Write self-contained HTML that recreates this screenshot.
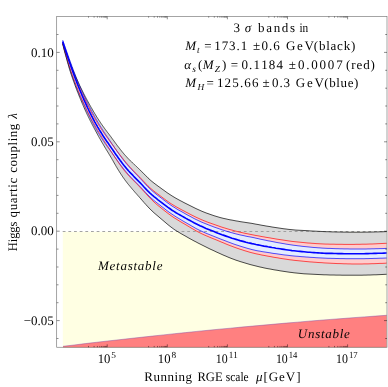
<!DOCTYPE html>
<html><head><meta charset="utf-8">
<style>
html,body{margin:0;padding:0;background:#fff;}
body{width:388px;height:387px;overflow:hidden;position:relative;}
svg{position:absolute;left:0;top:0;}
text{font-family:"Liberation Serif",serif;font-kerning:none;fill:#000;text-rendering:geometricPrecision;}
</style></head><body>
<svg width="388" height="387" viewBox="0 0 388 387">
<rect x="62.8" y="231.8" width="323.8" height="115.6" fill="#ffffe3"/>
<path d="M63.0,346.3 L74.2,345.0 L85.3,343.6 L96.5,342.3 L107.6,341.0 L118.8,339.8 L130.0,338.5 L141.1,337.3 L152.3,336.1 L163.4,334.9 L174.6,333.7 L185.7,332.6 L196.9,331.4 L208.1,330.3 L219.2,329.2 L230.4,328.2 L241.5,327.1 L252.7,326.1 L263.9,325.1 L275.0,324.1 L286.2,323.1 L297.3,322.2 L308.5,321.2 L319.6,320.3 L330.8,319.4 L342.0,318.6 L353.1,317.7 L364.3,316.9 L375.4,316.1 L386.6,315.3 L386.6,347.3 L63.0,347.3 Z" fill="#ff8080"/>
<path d="M63.0,346.3 L74.2,345.0 L85.3,343.6 L96.5,342.3 L107.6,341.0 L118.8,339.8 L130.0,338.5 L141.1,337.3 L152.3,336.1 L163.4,334.9 L174.6,333.7 L185.7,332.6 L196.9,331.4 L208.1,330.3 L219.2,329.2 L230.4,328.2 L241.5,327.1 L252.7,326.1 L263.9,325.1 L275.0,324.1 L286.2,323.1 L297.3,322.2 L308.5,321.2 L319.6,320.3 L330.8,319.4 L342.0,318.6 L353.1,317.7 L364.3,316.9 L375.4,316.1 L386.6,315.3" fill="none" stroke="#8048a8" stroke-width="0.45"/>
<path d="M62.7,42.6 L63.2,44.0 L63.7,45.4 L64.2,46.8 L64.7,48.1 L65.2,49.5 L65.7,50.9 L66.2,52.2 L66.7,53.6 L67.2,55.0 L67.7,56.3 L68.2,57.7 L68.7,59.1 L69.2,60.4 L69.7,61.8 L70.2,63.1 L70.7,64.4 L71.2,65.7 L71.7,67.0 L72.2,68.3 L72.7,69.5 L73.2,70.8 L73.7,72.0 L74.2,73.2 L74.7,74.4 L75.2,75.6 L75.7,76.8 L76.2,77.9 L76.7,79.0 L77.2,80.2 L77.7,81.3 L78.2,82.4 L78.7,83.4 L79.2,84.5 L79.7,85.6 L80.2,86.6 L80.7,87.6 L81.2,88.6 L81.7,89.6 L82.2,90.6 L82.7,91.6 L83.2,92.6 L83.7,93.6 L84.2,94.5 L84.7,95.5 L85.2,96.5 L85.7,97.4 L86.2,98.4 L86.7,99.3 L87.2,100.3 L87.7,101.2 L88.2,102.1 L88.7,103.0 L89.2,103.9 L89.7,104.8 L90.2,105.7 L90.7,106.6 L91.2,107.5 L91.7,108.3 L92.2,109.2 L92.7,110.1 L93.2,110.9 L93.7,111.8 L94.2,112.6 L94.7,113.5 L95.2,114.3 L95.7,115.1 L96.2,116.0 L96.7,116.8 L97.2,117.6 L97.7,118.4 L98.2,119.1 L98.7,119.9 L99.2,120.7 L99.7,121.4 L100.2,122.2 L100.7,122.9 L101.2,123.7 L101.7,124.4 L102.2,125.1 L102.7,125.8 L103.2,126.5 L103.7,127.2 L104.2,127.9 L104.7,128.6 L105.2,129.3 L105.7,129.9 L106.2,130.6 L106.7,131.3 L107.2,131.9 L107.7,132.6 L108.2,133.2 L108.7,133.9 L109.2,134.5 L109.7,135.2 L110.2,135.9 L110.7,136.5 L111.2,137.2 L111.7,137.9 L112.2,138.6 L112.7,139.3 L113.2,140.0 L113.7,140.6 L114.2,141.3 L114.7,142.0 L115.2,142.7 L115.7,143.4 L116.2,144.0 L116.7,144.7 L117.2,145.4 L117.7,146.0 L118.2,146.7 L118.7,147.3 L119.2,148.0 L119.7,148.6 L120.2,149.3 L120.7,149.9 L121.2,150.5 L121.7,151.2 L122.2,151.8 L122.7,152.4 L123.2,153.0 L123.7,153.6 L124.2,154.2 L124.7,154.8 L125.2,155.3 L125.7,155.9 L126.2,156.4 L126.7,157.0 L127.2,157.5 L127.7,158.0 L128.2,158.6 L128.7,159.1 L129.2,159.6 L129.7,160.1 L130.2,160.6 L130.7,161.1 L131.2,161.5 L131.7,162.0 L132.2,162.5 L132.7,163.0 L133.2,163.4 L133.7,163.9 L134.2,164.4 L134.7,164.9 L135.2,165.3 L135.7,165.8 L136.2,166.3 L136.7,166.7 L137.2,167.2 L137.7,167.7 L138.2,168.2 L138.7,168.6 L139.2,169.1 L139.7,169.6 L140.0,169.9 L142.0,171.9 L144.0,173.9 L146.0,175.9 L148.0,177.9 L150.0,179.8 L152.0,181.5 L154.0,183.1 L156.0,184.6 L158.0,186.1 L160.0,187.5 L162.0,189.0 L164.0,190.4 L166.0,191.9 L168.0,193.3 L170.0,194.6 L172.0,195.9 L174.0,197.1 L176.0,198.3 L178.0,199.4 L180.0,200.5 L182.0,201.5 L184.0,202.6 L186.0,203.6 L188.0,204.6 L190.0,205.6 L192.0,206.6 L194.0,207.6 L196.0,208.6 L198.0,209.5 L200.0,210.4 L202.0,211.3 L204.0,212.1 L206.0,212.9 L208.0,213.6 L210.0,214.3 L212.0,215.0 L214.0,215.7 L216.0,216.3 L218.0,216.9 L220.0,217.5 L222.0,218.0 L224.0,218.5 L226.0,218.9 L228.0,219.4 L230.0,219.8 L232.0,220.1 L234.0,220.5 L236.0,220.9 L238.0,221.2 L240.0,221.6 L242.0,221.9 L244.0,222.2 L246.0,222.5 L248.0,222.8 L250.0,223.1 L252.0,223.4 L254.0,223.8 L256.0,224.2 L258.0,224.5 L260.0,224.9 L262.0,225.3 L264.0,225.6 L266.0,226.0 L268.0,226.3 L270.0,226.6 L272.0,227.0 L274.0,227.3 L276.0,227.6 L278.0,227.9 L280.0,228.2 L282.0,228.5 L284.0,228.8 L286.0,229.0 L288.0,229.3 L290.0,229.5 L292.0,229.7 L294.0,229.9 L296.0,230.1 L298.0,230.2 L300.0,230.3 L302.0,230.4 L304.0,230.5 L306.0,230.6 L308.0,230.7 L310.0,230.9 L312.0,231.0 L314.0,231.1 L316.0,231.2 L318.0,231.3 L320.0,231.4 L322.0,231.5 L324.0,231.6 L326.0,231.7 L328.0,231.7 L330.0,231.8 L332.0,231.9 L334.0,231.9 L336.0,232.0 L338.0,232.0 L340.0,232.0 L342.0,232.1 L344.0,232.1 L346.0,232.1 L348.0,232.2 L350.0,232.2 L352.0,232.2 L354.0,232.2 L356.0,232.2 L358.0,232.2 L360.0,232.2 L362.0,232.2 L364.0,232.2 L366.0,232.1 L368.0,232.1 L370.0,232.1 L372.0,232.0 L374.0,232.0 L376.0,231.9 L378.0,231.9 L380.0,231.8 L382.0,231.8 L384.0,231.7 L386.0,231.6 L386.6,231.6 L386.6,274.3 L386.0,274.3 L384.0,274.4 L382.0,274.5 L380.0,274.6 L378.0,274.7 L376.0,274.8 L374.0,274.8 L372.0,274.9 L370.0,275.0 L368.0,275.0 L366.0,275.1 L364.0,275.1 L362.0,275.2 L360.0,275.2 L358.0,275.2 L356.0,275.2 L354.0,275.2 L352.0,275.2 L350.0,275.2 L348.0,275.2 L346.0,275.2 L344.0,275.2 L342.0,275.2 L340.0,275.1 L338.0,275.1 L336.0,275.1 L334.0,275.0 L332.0,275.0 L330.0,275.0 L328.0,274.9 L326.0,274.8 L324.0,274.8 L322.0,274.7 L320.0,274.6 L318.0,274.5 L316.0,274.4 L314.0,274.3 L312.0,274.2 L310.0,274.1 L308.0,274.0 L306.0,273.9 L304.0,273.8 L302.0,273.6 L300.0,273.4 L298.0,273.2 L296.0,273.0 L294.0,272.8 L292.0,272.5 L290.0,272.3 L288.0,272.0 L286.0,271.7 L284.0,271.4 L282.0,271.1 L280.0,270.8 L278.0,270.4 L276.0,270.1 L274.0,269.8 L272.0,269.4 L270.0,269.0 L268.0,268.7 L266.0,268.3 L264.0,267.9 L262.0,267.4 L260.0,267.0 L258.0,266.5 L256.0,266.0 L254.0,265.5 L252.0,265.0 L250.0,264.5 L248.0,263.9 L246.0,263.3 L244.0,262.7 L242.0,262.1 L240.0,261.5 L238.0,260.8 L236.0,260.2 L234.0,259.4 L232.0,258.7 L230.0,257.9 L228.0,257.1 L226.0,256.2 L224.0,255.4 L222.0,254.5 L220.0,253.6 L218.0,252.7 L216.0,251.8 L214.0,250.8 L212.0,249.9 L210.0,249.0 L208.0,248.0 L206.0,247.0 L204.0,246.0 L202.0,245.0 L200.0,244.0 L198.0,243.0 L196.0,241.9 L194.0,240.9 L192.0,239.8 L190.0,238.7 L188.0,237.6 L186.0,236.4 L184.0,235.3 L182.0,234.2 L180.0,233.0 L178.0,231.8 L176.0,230.6 L174.0,229.3 L172.0,227.8 L170.0,226.3 L168.0,224.7 L166.0,223.0 L164.0,221.3 L162.0,219.6 L160.0,217.9 L158.0,216.2 L156.0,214.5 L154.0,212.8 L152.0,210.9 L150.0,209.0 L148.0,206.9 L146.0,204.7 L144.0,202.5 L142.0,200.2 L140.0,197.9 L139.7,197.6 L139.2,197.0 L138.7,196.4 L138.2,195.9 L137.7,195.3 L137.2,194.7 L136.7,194.2 L136.2,193.6 L135.7,193.0 L135.2,192.5 L134.7,191.9 L134.2,191.3 L133.7,190.7 L133.2,190.2 L132.7,189.6 L132.2,189.0 L131.7,188.4 L131.2,187.8 L130.7,187.2 L130.2,186.6 L129.7,186.0 L129.2,185.4 L128.7,184.8 L128.2,184.2 L127.7,183.6 L127.2,182.9 L126.7,182.3 L126.2,181.6 L125.7,181.0 L125.2,180.3 L124.7,179.6 L124.2,178.9 L123.7,178.2 L123.2,177.5 L122.7,176.8 L122.2,176.0 L121.7,175.3 L121.2,174.5 L120.7,173.8 L120.2,173.0 L119.7,172.2 L119.2,171.4 L118.7,170.6 L118.2,169.8 L117.7,169.0 L117.2,168.2 L116.7,167.3 L116.2,166.5 L115.7,165.6 L115.2,164.7 L114.7,163.9 L114.2,163.0 L113.7,162.1 L113.2,161.2 L112.7,160.3 L112.2,159.5 L111.7,158.6 L111.2,157.7 L110.7,156.9 L110.2,156.0 L109.7,155.2 L109.2,154.4 L108.7,153.6 L108.2,152.7 L107.7,151.9 L107.2,151.1 L106.7,150.3 L106.2,149.5 L105.7,148.6 L105.2,147.8 L104.7,147.0 L104.2,146.1 L103.7,145.3 L103.2,144.4 L102.7,143.6 L102.2,142.7 L101.7,141.9 L101.2,141.0 L100.7,140.1 L100.2,139.2 L99.7,138.4 L99.2,137.5 L98.7,136.6 L98.2,135.7 L97.7,134.8 L97.2,133.9 L96.7,132.9 L96.2,132.0 L95.7,131.1 L95.2,130.1 L94.7,129.2 L94.2,128.3 L93.7,127.3 L93.2,126.4 L92.7,125.4 L92.2,124.5 L91.7,123.5 L91.2,122.5 L90.7,121.5 L90.2,120.6 L89.7,119.6 L89.2,118.6 L88.7,117.6 L88.2,116.5 L87.7,115.5 L87.2,114.5 L86.7,113.4 L86.2,112.3 L85.7,111.2 L85.2,110.1 L84.7,109.0 L84.2,107.9 L83.7,106.8 L83.2,105.6 L82.7,104.5 L82.2,103.3 L81.7,102.1 L81.2,100.9 L80.7,99.7 L80.2,98.5 L79.7,97.3 L79.2,96.0 L78.7,94.8 L78.2,93.5 L77.7,92.3 L77.2,91.0 L76.7,89.7 L76.2,88.4 L75.7,87.0 L75.2,85.7 L74.7,84.3 L74.2,82.9 L73.7,81.5 L73.2,80.1 L72.7,78.7 L72.2,77.2 L71.7,75.8 L71.2,74.3 L70.7,72.8 L70.2,71.2 L69.7,69.6 L69.2,68.0 L68.7,66.3 L68.2,64.5 L67.7,62.8 L67.2,61.0 L66.7,59.2 L66.2,57.4 L65.7,55.6 L65.2,53.8 L64.7,51.9 L64.2,50.0 L63.7,48.1 L63.2,46.1 L62.7,44.1 Z" fill="#d9d9d9"/>
<path d="M62.7,42.6 L63.2,44.1 L63.7,45.7 L64.2,47.2 L64.7,48.7 L65.2,50.1 L65.7,51.6 L66.2,53.1 L66.7,54.5 L67.2,56.0 L67.7,57.4 L68.2,58.9 L68.7,60.3 L69.2,61.7 L69.7,63.1 L70.2,64.5 L70.7,65.9 L71.2,67.2 L71.7,68.6 L72.2,69.9 L72.7,71.3 L73.2,72.6 L73.7,73.8 L74.2,75.1 L74.7,76.4 L75.2,77.6 L75.7,78.8 L76.2,80.0 L76.7,81.2 L77.2,82.4 L77.7,83.5 L78.2,84.7 L78.7,85.8 L79.2,87.0 L79.7,88.1 L80.2,89.2 L80.7,90.3 L81.2,91.4 L81.7,92.5 L82.2,93.6 L82.7,94.6 L83.2,95.7 L83.7,96.8 L84.2,97.8 L84.7,98.9 L85.2,99.9 L85.7,101.0 L86.2,102.0 L86.7,103.0 L87.2,104.1 L87.7,105.1 L88.2,106.1 L88.7,107.1 L89.2,108.0 L89.7,109.0 L90.2,110.0 L90.7,110.9 L91.2,111.9 L91.7,112.8 L92.2,113.8 L92.7,114.7 L93.2,115.6 L93.7,116.5 L94.2,117.4 L94.7,118.3 L95.2,119.2 L95.7,120.0 L96.2,120.9 L96.7,121.7 L97.2,122.6 L97.7,123.4 L98.2,124.2 L98.7,125.0 L99.2,125.8 L99.7,126.6 L100.2,127.4 L100.7,128.2 L101.2,129.0 L101.7,129.7 L102.2,130.5 L102.7,131.2 L103.2,132.0 L103.7,132.7 L104.2,133.4 L104.7,134.2 L105.2,134.9 L105.7,135.6 L106.2,136.3 L106.7,137.0 L107.2,137.7 L107.7,138.3 L108.2,139.0 L108.7,139.7 L109.2,140.4 L109.7,141.1 L110.2,141.8 L110.7,142.5 L111.2,143.2 L111.7,143.9 L112.2,144.6 L112.7,145.2 L113.2,145.9 L113.7,146.6 L114.2,147.3 L114.7,148.0 L115.2,148.7 L115.7,149.3 L116.2,150.0 L116.7,150.7 L117.2,151.3 L117.7,152.0 L118.2,152.7 L118.7,153.3 L119.2,154.0 L119.7,154.6 L120.2,155.2 L120.7,155.9 L121.2,156.5 L121.7,157.2 L122.2,157.8 L122.7,158.4 L123.2,159.1 L123.7,159.7 L124.2,160.3 L124.7,160.9 L125.2,161.5 L125.7,162.1 L126.2,162.7 L126.7,163.3 L127.2,163.9 L127.7,164.5 L128.2,165.1 L128.7,165.6 L129.2,166.2 L129.7,166.7 L130.2,167.3 L130.7,167.8 L131.2,168.3 L131.7,168.9 L132.2,169.4 L132.7,169.9 L133.2,170.5 L133.7,171.0 L134.2,171.5 L134.7,172.0 L135.2,172.5 L135.7,173.0 L136.2,173.6 L136.7,174.1 L137.2,174.6 L137.7,175.1 L138.2,175.6 L138.7,176.1 L139.2,176.7 L139.7,177.2 L140.0,177.5 L142.0,179.6 L144.0,181.7 L146.0,183.8 L148.0,185.9 L150.0,187.8 L152.0,189.5 L154.0,191.2 L156.0,192.7 L158.0,194.2 L160.0,195.7 L162.0,197.2 L164.0,198.7 L166.0,200.2 L168.0,201.6 L170.0,203.0 L172.0,204.3 L174.0,205.5 L176.0,206.7 L178.0,207.8 L180.0,208.9 L182.0,210.0 L184.0,211.0 L186.0,212.1 L188.0,213.1 L190.0,214.2 L192.0,215.2 L194.0,216.2 L196.0,217.2 L198.0,218.1 L200.0,219.0 L202.0,219.9 L204.0,220.7 L206.0,221.5 L208.0,222.3 L210.0,223.0 L212.0,223.7 L214.0,224.4 L216.0,225.1 L218.0,225.8 L220.0,226.5 L222.0,227.2 L224.0,227.8 L226.0,228.4 L228.0,229.0 L230.0,229.6 L232.0,230.1 L234.0,230.7 L236.0,231.2 L238.0,231.7 L240.0,232.2 L242.0,232.6 L244.0,233.1 L246.0,233.5 L248.0,233.9 L250.0,234.3 L252.0,234.7 L254.0,235.1 L256.0,235.5 L258.0,235.8 L260.0,236.2 L262.0,236.6 L264.0,236.9 L266.0,237.3 L268.0,237.6 L270.0,237.9 L272.0,238.3 L274.0,238.6 L276.0,239.0 L278.0,239.3 L280.0,239.6 L282.0,239.9 L284.0,240.2 L286.0,240.5 L288.0,240.8 L290.0,241.1 L292.0,241.4 L294.0,241.6 L296.0,241.8 L298.0,242.0 L300.0,242.2 L302.0,242.4 L304.0,242.6 L306.0,242.8 L308.0,243.0 L310.0,243.1 L312.0,243.3 L314.0,243.4 L316.0,243.6 L318.0,243.7 L320.0,243.8 L322.0,243.9 L324.0,244.0 L326.0,244.1 L328.0,244.1 L330.0,244.2 L332.0,244.2 L334.0,244.2 L336.0,244.3 L338.0,244.3 L340.0,244.3 L342.0,244.3 L344.0,244.4 L346.0,244.4 L348.0,244.4 L350.0,244.4 L352.0,244.4 L354.0,244.4 L356.0,244.3 L358.0,244.3 L360.0,244.3 L362.0,244.2 L364.0,244.2 L366.0,244.2 L368.0,244.1 L370.0,244.0 L372.0,244.0 L374.0,243.9 L376.0,243.8 L378.0,243.7 L380.0,243.6 L382.0,243.5 L384.0,243.4 L386.0,243.3 L386.6,243.3 L386.6,263.1 L386.0,263.2 L384.0,263.3 L382.0,263.4 L380.0,263.4 L378.0,263.5 L376.0,263.6 L374.0,263.7 L372.0,263.7 L370.0,263.8 L368.0,263.9 L366.0,263.9 L364.0,263.9 L362.0,264.0 L360.0,264.0 L358.0,264.0 L356.0,264.0 L354.0,264.0 L352.0,264.0 L350.0,263.9 L348.0,263.9 L346.0,263.8 L344.0,263.8 L342.0,263.7 L340.0,263.6 L338.0,263.6 L336.0,263.5 L334.0,263.4 L332.0,263.3 L330.0,263.2 L328.0,263.1 L326.0,263.0 L324.0,262.9 L322.0,262.7 L320.0,262.6 L318.0,262.5 L316.0,262.3 L314.0,262.2 L312.0,262.0 L310.0,261.9 L308.0,261.7 L306.0,261.5 L304.0,261.3 L302.0,261.1 L300.0,260.9 L298.0,260.7 L296.0,260.5 L294.0,260.3 L292.0,260.0 L290.0,259.8 L288.0,259.5 L286.0,259.2 L284.0,258.9 L282.0,258.6 L280.0,258.3 L278.0,257.9 L276.0,257.6 L274.0,257.3 L272.0,256.9 L270.0,256.5 L268.0,256.2 L266.0,255.8 L264.0,255.4 L262.0,255.1 L260.0,254.6 L258.0,254.2 L256.0,253.8 L254.0,253.3 L252.0,252.8 L250.0,252.3 L248.0,251.7 L246.0,251.1 L244.0,250.5 L242.0,249.8 L240.0,249.2 L238.0,248.5 L236.0,247.8 L234.0,247.1 L232.0,246.3 L230.0,245.6 L228.0,244.8 L226.0,244.0 L224.0,243.1 L222.0,242.3 L220.0,241.5 L218.0,240.6 L216.0,239.8 L214.0,239.0 L212.0,238.2 L210.0,237.4 L208.0,236.5 L206.0,235.7 L204.0,234.8 L202.0,233.9 L200.0,232.9 L198.0,231.9 L196.0,230.8 L194.0,229.6 L192.0,228.5 L190.0,227.3 L188.0,226.1 L186.0,224.9 L184.0,223.7 L182.0,222.6 L180.0,221.4 L178.0,220.2 L176.0,218.9 L174.0,217.7 L172.0,216.3 L170.0,214.9 L168.0,213.4 L166.0,211.9 L164.0,210.3 L162.0,208.7 L160.0,207.1 L158.0,205.5 L156.0,203.8 L154.0,202.0 L152.0,200.1 L150.0,198.1 L148.0,196.0 L146.0,193.8 L144.0,191.6 L142.0,189.4 L140.0,187.2 L139.7,186.9 L139.2,186.4 L138.7,185.9 L138.2,185.3 L137.7,184.8 L137.2,184.3 L136.7,183.8 L136.2,183.3 L135.7,182.8 L135.2,182.3 L134.7,181.8 L134.2,181.3 L133.7,180.8 L133.2,180.3 L132.7,179.8 L132.2,179.3 L131.7,178.8 L131.2,178.3 L130.7,177.8 L130.2,177.3 L129.7,176.7 L129.2,176.2 L128.7,175.7 L128.2,175.1 L127.7,174.6 L127.2,174.0 L126.7,173.4 L126.2,172.8 L125.7,172.2 L125.2,171.6 L124.7,171.0 L124.2,170.4 L123.7,169.8 L123.2,169.1 L122.7,168.5 L122.2,167.8 L121.7,167.1 L121.2,166.4 L120.7,165.7 L120.2,165.0 L119.7,164.3 L119.2,163.6 L118.7,162.9 L118.2,162.1 L117.7,161.4 L117.2,160.7 L116.7,159.9 L116.2,159.2 L115.7,158.4 L115.2,157.7 L114.7,156.9 L114.2,156.1 L113.7,155.4 L113.2,154.6 L112.7,153.8 L112.2,153.1 L111.7,152.3 L111.2,151.5 L110.7,150.8 L110.2,150.0 L109.7,149.2 L109.2,148.5 L108.7,147.7 L108.2,147.0 L107.7,146.2 L107.2,145.5 L106.7,144.7 L106.2,144.0 L105.7,143.2 L105.2,142.4 L104.7,141.7 L104.2,140.9 L103.7,140.1 L103.2,139.3 L102.7,138.5 L102.2,137.7 L101.7,136.9 L101.2,136.1 L100.7,135.2 L100.2,134.4 L99.7,133.6 L99.2,132.8 L98.7,132.0 L98.2,131.1 L97.7,130.3 L97.2,129.4 L96.7,128.6 L96.2,127.7 L95.7,126.9 L95.2,126.0 L94.7,125.1 L94.2,124.2 L93.7,123.3 L93.2,122.4 L92.7,121.5 L92.2,120.6 L91.7,119.6 L91.2,118.7 L90.7,117.7 L90.2,116.7 L89.7,115.8 L89.2,114.8 L88.7,113.8 L88.2,112.8 L87.7,111.8 L87.2,110.7 L86.7,109.7 L86.2,108.7 L85.7,107.6 L85.2,106.5 L84.7,105.4 L84.2,104.4 L83.7,103.3 L83.2,102.1 L82.7,101.0 L82.2,99.9 L81.7,98.8 L81.2,97.6 L80.7,96.5 L80.2,95.3 L79.7,94.1 L79.2,92.9 L78.7,91.7 L78.2,90.4 L77.7,89.2 L77.2,87.9 L76.7,86.6 L76.2,85.3 L75.7,84.0 L75.2,82.7 L74.7,81.4 L74.2,80.0 L73.7,78.6 L73.2,77.2 L72.7,75.8 L72.2,74.4 L71.7,73.0 L71.2,71.6 L70.7,70.1 L70.2,68.6 L69.7,67.1 L69.2,65.5 L68.7,64.0 L68.2,62.3 L67.7,60.7 L67.2,59.1 L66.7,57.4 L66.2,55.8 L65.7,54.1 L65.2,52.4 L64.7,50.7 L64.2,49.0 L63.7,47.2 L63.2,45.4 L62.7,43.6 Z" fill="#ffcccc"/>
<path d="M62.7,40.1 L63.2,41.6 L63.7,43.0 L64.2,44.5 L64.7,45.9 L65.2,47.4 L65.7,48.8 L66.2,50.2 L66.7,51.6 L67.2,53.0 L67.7,54.4 L68.2,55.8 L68.7,57.2 L69.2,58.6 L69.7,60.0 L70.2,61.4 L70.7,62.8 L71.2,64.1 L71.7,65.5 L72.2,66.9 L72.7,68.2 L73.2,69.6 L73.7,70.9 L74.2,72.2 L74.7,73.5 L75.2,74.8 L75.7,76.1 L76.2,77.3 L76.7,78.6 L77.2,79.8 L77.7,81.0 L78.2,82.2 L78.7,83.4 L79.2,84.6 L79.7,85.8 L80.2,86.9 L80.7,88.1 L81.2,89.2 L81.7,90.4 L82.2,91.5 L82.7,92.6 L83.2,93.8 L83.7,94.9 L84.2,96.0 L84.7,97.1 L85.2,98.1 L85.7,99.2 L86.2,100.3 L86.7,101.3 L87.2,102.3 L87.7,103.4 L88.2,104.4 L88.7,105.4 L89.2,106.4 L89.7,107.3 L90.2,108.3 L90.7,109.3 L91.2,110.2 L91.7,111.2 L92.2,112.1 L92.7,113.1 L93.2,114.0 L93.7,114.9 L94.2,115.8 L94.7,116.7 L95.2,117.6 L95.7,118.5 L96.2,119.3 L96.7,120.2 L97.2,121.0 L97.7,121.9 L98.2,122.7 L98.7,123.6 L99.2,124.4 L99.7,125.2 L100.2,126.0 L100.7,126.8 L101.2,127.6 L101.7,128.4 L102.2,129.2 L102.7,130.0 L103.2,130.8 L103.7,131.6 L104.2,132.3 L104.7,133.1 L105.2,133.8 L105.7,134.6 L106.2,135.3 L106.7,136.0 L107.2,136.8 L107.7,137.5 L108.2,138.2 L108.7,138.9 L109.2,139.7 L109.7,140.4 L110.2,141.1 L110.7,141.9 L111.2,142.6 L111.7,143.4 L112.2,144.1 L112.7,144.8 L113.2,145.6 L113.7,146.3 L114.2,147.1 L114.7,147.8 L115.2,148.6 L115.7,149.3 L116.2,150.0 L116.7,150.7 L117.2,151.5 L117.7,152.2 L118.2,152.9 L118.7,153.6 L119.2,154.3 L119.7,155.0 L120.2,155.7 L120.7,156.4 L121.2,157.0 L121.7,157.7 L122.2,158.4 L122.7,159.1 L123.2,159.7 L123.7,160.4 L124.2,161.0 L124.7,161.6 L125.2,162.2 L125.7,162.9 L126.2,163.5 L126.7,164.1 L127.2,164.6 L127.7,165.2 L128.2,165.8 L128.7,166.4 L129.2,166.9 L129.7,167.5 L130.2,168.0 L130.7,168.5 L131.2,169.1 L131.7,169.6 L132.2,170.1 L132.7,170.7 L133.2,171.2 L133.7,171.7 L134.2,172.2 L134.7,172.8 L135.2,173.3 L135.7,173.8 L136.2,174.3 L136.7,174.8 L137.2,175.3 L137.7,175.9 L138.2,176.4 L138.7,176.9 L139.2,177.4 L139.7,178.0 L140.0,178.3 L142.0,180.4 L144.0,182.6 L146.0,184.8 L148.0,186.9 L150.0,188.8 L152.0,190.7 L154.0,192.4 L156.0,194.0 L158.0,195.6 L160.0,197.1 L162.0,198.6 L164.0,200.2 L166.0,201.7 L168.0,203.2 L170.0,204.6 L172.0,206.0 L174.0,207.2 L176.0,208.5 L178.0,209.7 L180.0,210.8 L182.0,211.9 L184.0,213.0 L186.0,214.2 L188.0,215.3 L190.0,216.3 L192.0,217.4 L194.0,218.5 L196.0,219.5 L198.0,220.4 L200.0,221.4 L202.0,222.3 L204.0,223.1 L206.0,223.9 L208.0,224.7 L210.0,225.5 L212.0,226.2 L214.0,227.0 L216.0,227.7 L218.0,228.4 L220.0,229.1 L222.0,229.8 L224.0,230.4 L226.0,231.1 L228.0,231.7 L230.0,232.3 L232.0,232.8 L234.0,233.4 L236.0,233.9 L238.0,234.4 L240.0,234.9 L242.0,235.3 L244.0,235.7 L246.0,236.2 L248.0,236.6 L250.0,236.9 L252.0,237.3 L254.0,237.7 L256.0,238.2 L258.0,238.6 L260.0,239.1 L262.0,239.5 L264.0,239.9 L266.0,240.3 L268.0,240.8 L270.0,241.1 L272.0,241.5 L274.0,241.9 L276.0,242.3 L278.0,242.7 L280.0,243.0 L282.0,243.4 L284.0,243.7 L286.0,244.1 L288.0,244.4 L290.0,244.7 L292.0,245.0 L294.0,245.3 L296.0,245.5 L298.0,245.8 L300.0,246.0 L302.0,246.3 L304.0,246.5 L306.0,246.7 L308.0,246.9 L310.0,247.1 L312.0,247.3 L314.0,247.5 L316.0,247.6 L318.0,247.8 L320.0,247.9 L322.0,248.1 L324.0,248.2 L326.0,248.3 L328.0,248.4 L330.0,248.4 L332.0,248.5 L334.0,248.6 L336.0,248.7 L338.0,248.7 L340.0,248.8 L342.0,248.8 L344.0,248.9 L346.0,248.9 L348.0,248.9 L350.0,249.0 L352.0,249.0 L354.0,249.0 L356.0,249.0 L358.0,249.0 L360.0,249.0 L362.0,249.0 L364.0,249.0 L366.0,249.0 L368.0,248.9 L370.0,248.9 L372.0,248.8 L374.0,248.8 L376.0,248.7 L378.0,248.7 L380.0,248.6 L382.0,248.6 L384.0,248.5 L386.0,248.4 L386.6,248.4 L386.6,258.0 L386.0,258.0 L384.0,258.1 L382.0,258.2 L380.0,258.2 L378.0,258.3 L376.0,258.4 L374.0,258.4 L372.0,258.5 L370.0,258.5 L368.0,258.6 L366.0,258.6 L364.0,258.7 L362.0,258.7 L360.0,258.7 L358.0,258.7 L356.0,258.7 L354.0,258.7 L352.0,258.7 L350.0,258.7 L348.0,258.7 L346.0,258.7 L344.0,258.6 L342.0,258.6 L340.0,258.6 L338.0,258.5 L336.0,258.5 L334.0,258.4 L332.0,258.4 L330.0,258.3 L328.0,258.3 L326.0,258.2 L324.0,258.1 L322.0,258.0 L320.0,257.9 L318.0,257.8 L316.0,257.7 L314.0,257.5 L312.0,257.4 L310.0,257.3 L308.0,257.1 L306.0,257.0 L304.0,256.8 L302.0,256.7 L300.0,256.5 L298.0,256.3 L296.0,256.2 L294.0,256.0 L292.0,255.8 L290.0,255.6 L288.0,255.3 L286.0,255.1 L284.0,254.9 L282.0,254.6 L280.0,254.3 L278.0,254.0 L276.0,253.7 L274.0,253.5 L272.0,253.2 L270.0,252.8 L268.0,252.5 L266.0,252.2 L264.0,251.9 L262.0,251.6 L260.0,251.2 L258.0,250.9 L256.0,250.5 L254.0,250.0 L252.0,249.6 L250.0,249.0 L248.0,248.5 L246.0,247.9 L244.0,247.3 L242.0,246.7 L240.0,246.1 L238.0,245.4 L236.0,244.8 L234.0,244.1 L232.0,243.4 L230.0,242.6 L228.0,241.9 L226.0,241.1 L224.0,240.3 L222.0,239.6 L220.0,238.8 L218.0,238.0 L216.0,237.2 L214.0,236.4 L212.0,235.6 L210.0,234.8 L208.0,234.0 L206.0,233.2 L204.0,232.3 L202.0,231.4 L200.0,230.5 L198.0,229.5 L196.0,228.5 L194.0,227.3 L192.0,226.2 L190.0,225.0 L188.0,223.9 L186.0,222.7 L184.0,221.6 L182.0,220.4 L180.0,219.2 L178.0,218.0 L176.0,216.8 L174.0,215.5 L172.0,214.2 L170.0,212.8 L168.0,211.4 L166.0,209.9 L164.0,208.3 L162.0,206.8 L160.0,205.2 L158.0,203.7 L156.0,202.1 L154.0,200.5 L152.0,198.8 L150.0,197.0 L148.0,195.0 L146.0,192.9 L144.0,190.8 L142.0,188.6 L140.0,186.5 L139.7,186.2 L139.2,185.7 L138.7,185.2 L138.2,184.7 L137.7,184.1 L137.2,183.6 L136.7,183.1 L136.2,182.6 L135.7,182.1 L135.2,181.6 L134.7,181.1 L134.2,180.6 L133.7,180.1 L133.2,179.6 L132.7,179.0 L132.2,178.5 L131.7,178.0 L131.2,177.5 L130.7,176.9 L130.2,176.4 L129.7,175.9 L129.2,175.3 L128.7,174.8 L128.2,174.2 L127.7,173.7 L127.2,173.1 L126.7,172.5 L126.2,171.9 L125.7,171.3 L125.2,170.7 L124.7,170.1 L124.2,169.5 L123.7,168.9 L123.2,168.3 L122.7,167.6 L122.2,167.0 L121.7,166.3 L121.2,165.7 L120.7,165.0 L120.2,164.4 L119.7,163.7 L119.2,163.0 L118.7,162.4 L118.2,161.7 L117.7,161.0 L117.2,160.3 L116.7,159.6 L116.2,159.0 L115.7,158.3 L115.2,157.6 L114.7,156.9 L114.2,156.2 L113.7,155.5 L113.2,154.8 L112.7,154.0 L112.2,153.3 L111.7,152.6 L111.2,151.9 L110.7,151.2 L110.2,150.5 L109.7,149.8 L109.2,149.1 L108.7,148.4 L108.2,147.8 L107.7,147.1 L107.2,146.4 L106.7,145.7 L106.2,145.0 L105.7,144.3 L105.2,143.6 L104.7,142.8 L104.2,142.1 L103.7,141.4 L103.2,140.6 L102.7,139.9 L102.2,139.1 L101.7,138.3 L101.2,137.5 L100.7,136.7 L100.2,135.9 L99.7,135.1 L99.2,134.3 L98.7,133.5 L98.2,132.6 L97.7,131.8 L97.2,130.9 L96.7,130.1 L96.2,129.2 L95.7,128.3 L95.2,127.4 L94.7,126.5 L94.2,125.6 L93.7,124.6 L93.2,123.7 L92.7,122.8 L92.2,121.8 L91.7,120.8 L91.2,119.8 L90.7,118.9 L90.2,117.9 L89.7,116.8 L89.2,115.8 L88.7,114.8 L88.2,113.8 L87.7,112.7 L87.2,111.7 L86.7,110.6 L86.2,109.5 L85.7,108.4 L85.2,107.3 L84.7,106.2 L84.2,105.1 L83.7,104.1 L83.2,103.0 L82.7,101.9 L82.2,100.8 L81.7,99.7 L81.2,98.6 L80.7,97.5 L80.2,96.4 L79.7,95.3 L79.2,94.1 L78.7,92.9 L78.2,91.7 L77.7,90.5 L77.2,89.2 L76.7,88.0 L76.2,86.7 L75.7,85.4 L75.2,84.1 L74.7,82.7 L74.2,81.4 L73.7,80.0 L73.2,78.6 L72.7,77.2 L72.2,75.8 L71.7,74.4 L71.2,73.0 L70.7,71.5 L70.2,70.0 L69.7,68.4 L69.2,66.8 L68.7,65.1 L68.2,63.4 L67.7,61.7 L67.2,59.9 L66.7,58.2 L66.2,56.4 L65.7,54.6 L65.2,52.8 L64.7,50.9 L64.2,49.0 L63.7,47.1 L63.2,45.1 L62.7,43.1 Z" fill="#e3ecff"/>
<path d="M62.7,231.5 H386.6" stroke="#999" stroke-width="0.9" stroke-dasharray="2.8,2.86" fill="none"/>
<g fill="none" stroke="#1010ff" stroke-width="0.72"><path d="M62.7,40.1 L63.2,41.6 L63.7,43.0 L64.2,44.5 L64.7,45.9 L65.2,47.4 L65.7,48.8 L66.2,50.2 L66.7,51.6 L67.2,53.0 L67.7,54.4 L68.2,55.8 L68.7,57.2 L69.2,58.6 L69.7,60.0 L70.2,61.4 L70.7,62.8 L71.2,64.1 L71.7,65.5 L72.2,66.9 L72.7,68.2 L73.2,69.6 L73.7,70.9 L74.2,72.2 L74.7,73.5 L75.2,74.8 L75.7,76.1 L76.2,77.3 L76.7,78.6 L77.2,79.8 L77.7,81.0 L78.2,82.2 L78.7,83.4 L79.2,84.6 L79.7,85.8 L80.2,86.9 L80.7,88.1 L81.2,89.2 L81.7,90.4 L82.2,91.5 L82.7,92.6 L83.2,93.8 L83.7,94.9 L84.2,96.0 L84.7,97.1 L85.2,98.1 L85.7,99.2 L86.2,100.3 L86.7,101.3 L87.2,102.3 L87.7,103.4 L88.2,104.4 L88.7,105.4 L89.2,106.4 L89.7,107.3 L90.2,108.3 L90.7,109.3 L91.2,110.2 L91.7,111.2 L92.2,112.1 L92.7,113.1 L93.2,114.0 L93.7,114.9 L94.2,115.8 L94.7,116.7 L95.2,117.6 L95.7,118.5 L96.2,119.3 L96.7,120.2 L97.2,121.0 L97.7,121.9 L98.2,122.7 L98.7,123.6 L99.2,124.4 L99.7,125.2 L100.2,126.0 L100.7,126.8 L101.2,127.6 L101.7,128.4 L102.2,129.2 L102.7,130.0 L103.2,130.8 L103.7,131.6 L104.2,132.3 L104.7,133.1 L105.2,133.8 L105.7,134.6 L106.2,135.3 L106.7,136.0 L107.2,136.8 L107.7,137.5 L108.2,138.2 L108.7,138.9 L109.2,139.7 L109.7,140.4 L110.2,141.1 L110.7,141.9 L111.2,142.6 L111.7,143.4 L112.2,144.1 L112.7,144.8 L113.2,145.6 L113.7,146.3 L114.2,147.1 L114.7,147.8 L115.2,148.6 L115.7,149.3 L116.2,150.0 L116.7,150.7 L117.2,151.5 L117.7,152.2 L118.2,152.9 L118.7,153.6 L119.2,154.3 L119.7,155.0 L120.2,155.7 L120.7,156.4 L121.2,157.0 L121.7,157.7 L122.2,158.4 L122.7,159.1 L123.2,159.7 L123.7,160.4 L124.2,161.0 L124.7,161.6 L125.2,162.2 L125.7,162.9 L126.2,163.5 L126.7,164.1 L127.2,164.6 L127.7,165.2 L128.2,165.8 L128.7,166.4 L129.2,166.9 L129.7,167.5 L130.2,168.0 L130.7,168.5 L131.2,169.1 L131.7,169.6 L132.2,170.1 L132.7,170.7 L133.2,171.2 L133.7,171.7 L134.2,172.2 L134.7,172.8 L135.2,173.3 L135.7,173.8 L136.2,174.3 L136.7,174.8 L137.2,175.3 L137.7,175.9 L138.2,176.4 L138.7,176.9 L139.2,177.4 L139.7,178.0 L140.0,178.3 L142.0,180.4 L144.0,182.6 L146.0,184.8 L148.0,186.9 L150.0,188.8 L152.0,190.7 L154.0,192.4 L156.0,194.0 L158.0,195.6 L160.0,197.1 L162.0,198.6 L164.0,200.2 L166.0,201.7 L168.0,203.2 L170.0,204.6 L172.0,206.0 L174.0,207.2 L176.0,208.5 L178.0,209.7 L180.0,210.8 L182.0,211.9 L184.0,213.0 L186.0,214.2 L188.0,215.3 L190.0,216.3 L192.0,217.4 L194.0,218.5 L196.0,219.5 L198.0,220.4 L200.0,221.4 L202.0,222.3 L204.0,223.1 L206.0,223.9 L208.0,224.7 L210.0,225.5 L212.0,226.2 L214.0,227.0 L216.0,227.7 L218.0,228.4 L220.0,229.1 L222.0,229.8 L224.0,230.4 L226.0,231.1 L228.0,231.7 L230.0,232.3 L232.0,232.8 L234.0,233.4 L236.0,233.9 L238.0,234.4 L240.0,234.9 L242.0,235.3 L244.0,235.7 L246.0,236.2 L248.0,236.6 L250.0,236.9 L252.0,237.3 L254.0,237.7 L256.0,238.2 L258.0,238.6 L260.0,239.1 L262.0,239.5 L264.0,239.9 L266.0,240.3 L268.0,240.8 L270.0,241.1 L272.0,241.5 L274.0,241.9 L276.0,242.3 L278.0,242.7 L280.0,243.0 L282.0,243.4 L284.0,243.7 L286.0,244.1 L288.0,244.4 L290.0,244.7 L292.0,245.0 L294.0,245.3 L296.0,245.5 L298.0,245.8 L300.0,246.0 L302.0,246.3 L304.0,246.5 L306.0,246.7 L308.0,246.9 L310.0,247.1 L312.0,247.3 L314.0,247.5 L316.0,247.6 L318.0,247.8 L320.0,247.9 L322.0,248.1 L324.0,248.2 L326.0,248.3 L328.0,248.4 L330.0,248.4 L332.0,248.5 L334.0,248.6 L336.0,248.7 L338.0,248.7 L340.0,248.8 L342.0,248.8 L344.0,248.9 L346.0,248.9 L348.0,248.9 L350.0,249.0 L352.0,249.0 L354.0,249.0 L356.0,249.0 L358.0,249.0 L360.0,249.0 L362.0,249.0 L364.0,249.0 L366.0,249.0 L368.0,248.9 L370.0,248.9 L372.0,248.8 L374.0,248.8 L376.0,248.7 L378.0,248.7 L380.0,248.6 L382.0,248.6 L384.0,248.5 L386.0,248.4 L386.6,248.4"/><path d="M62.7,43.1 L63.2,45.1 L63.7,47.1 L64.2,49.0 L64.7,50.9 L65.2,52.8 L65.7,54.6 L66.2,56.4 L66.7,58.2 L67.2,59.9 L67.7,61.7 L68.2,63.4 L68.7,65.1 L69.2,66.8 L69.7,68.4 L70.2,70.0 L70.7,71.5 L71.2,73.0 L71.7,74.4 L72.2,75.8 L72.7,77.2 L73.2,78.6 L73.7,80.0 L74.2,81.4 L74.7,82.7 L75.2,84.1 L75.7,85.4 L76.2,86.7 L76.7,88.0 L77.2,89.2 L77.7,90.5 L78.2,91.7 L78.7,92.9 L79.2,94.1 L79.7,95.3 L80.2,96.4 L80.7,97.5 L81.2,98.6 L81.7,99.7 L82.2,100.8 L82.7,101.9 L83.2,103.0 L83.7,104.1 L84.2,105.1 L84.7,106.2 L85.2,107.3 L85.7,108.4 L86.2,109.5 L86.7,110.6 L87.2,111.7 L87.7,112.7 L88.2,113.8 L88.7,114.8 L89.2,115.8 L89.7,116.8 L90.2,117.9 L90.7,118.9 L91.2,119.8 L91.7,120.8 L92.2,121.8 L92.7,122.8 L93.2,123.7 L93.7,124.6 L94.2,125.6 L94.7,126.5 L95.2,127.4 L95.7,128.3 L96.2,129.2 L96.7,130.1 L97.2,130.9 L97.7,131.8 L98.2,132.6 L98.7,133.5 L99.2,134.3 L99.7,135.1 L100.2,135.9 L100.7,136.7 L101.2,137.5 L101.7,138.3 L102.2,139.1 L102.7,139.9 L103.2,140.6 L103.7,141.4 L104.2,142.1 L104.7,142.8 L105.2,143.6 L105.7,144.3 L106.2,145.0 L106.7,145.7 L107.2,146.4 L107.7,147.1 L108.2,147.8 L108.7,148.4 L109.2,149.1 L109.7,149.8 L110.2,150.5 L110.7,151.2 L111.2,151.9 L111.7,152.6 L112.2,153.3 L112.7,154.0 L113.2,154.8 L113.7,155.5 L114.2,156.2 L114.7,156.9 L115.2,157.6 L115.7,158.3 L116.2,159.0 L116.7,159.6 L117.2,160.3 L117.7,161.0 L118.2,161.7 L118.7,162.4 L119.2,163.0 L119.7,163.7 L120.2,164.4 L120.7,165.0 L121.2,165.7 L121.7,166.3 L122.2,167.0 L122.7,167.6 L123.2,168.3 L123.7,168.9 L124.2,169.5 L124.7,170.1 L125.2,170.7 L125.7,171.3 L126.2,171.9 L126.7,172.5 L127.2,173.1 L127.7,173.7 L128.2,174.2 L128.7,174.8 L129.2,175.3 L129.7,175.9 L130.2,176.4 L130.7,176.9 L131.2,177.5 L131.7,178.0 L132.2,178.5 L132.7,179.0 L133.2,179.6 L133.7,180.1 L134.2,180.6 L134.7,181.1 L135.2,181.6 L135.7,182.1 L136.2,182.6 L136.7,183.1 L137.2,183.6 L137.7,184.1 L138.2,184.7 L138.7,185.2 L139.2,185.7 L139.7,186.2 L140.0,186.5 L142.0,188.6 L144.0,190.8 L146.0,192.9 L148.0,195.0 L150.0,197.0 L152.0,198.8 L154.0,200.5 L156.0,202.1 L158.0,203.7 L160.0,205.2 L162.0,206.8 L164.0,208.3 L166.0,209.9 L168.0,211.4 L170.0,212.8 L172.0,214.2 L174.0,215.5 L176.0,216.8 L178.0,218.0 L180.0,219.2 L182.0,220.4 L184.0,221.6 L186.0,222.7 L188.0,223.9 L190.0,225.0 L192.0,226.2 L194.0,227.3 L196.0,228.5 L198.0,229.5 L200.0,230.5 L202.0,231.4 L204.0,232.3 L206.0,233.2 L208.0,234.0 L210.0,234.8 L212.0,235.6 L214.0,236.4 L216.0,237.2 L218.0,238.0 L220.0,238.8 L222.0,239.6 L224.0,240.3 L226.0,241.1 L228.0,241.9 L230.0,242.6 L232.0,243.4 L234.0,244.1 L236.0,244.8 L238.0,245.4 L240.0,246.1 L242.0,246.7 L244.0,247.3 L246.0,247.9 L248.0,248.5 L250.0,249.0 L252.0,249.6 L254.0,250.0 L256.0,250.5 L258.0,250.9 L260.0,251.2 L262.0,251.6 L264.0,251.9 L266.0,252.2 L268.0,252.5 L270.0,252.8 L272.0,253.2 L274.0,253.5 L276.0,253.7 L278.0,254.0 L280.0,254.3 L282.0,254.6 L284.0,254.9 L286.0,255.1 L288.0,255.3 L290.0,255.6 L292.0,255.8 L294.0,256.0 L296.0,256.2 L298.0,256.3 L300.0,256.5 L302.0,256.7 L304.0,256.8 L306.0,257.0 L308.0,257.1 L310.0,257.3 L312.0,257.4 L314.0,257.5 L316.0,257.7 L318.0,257.8 L320.0,257.9 L322.0,258.0 L324.0,258.1 L326.0,258.2 L328.0,258.3 L330.0,258.3 L332.0,258.4 L334.0,258.4 L336.0,258.5 L338.0,258.5 L340.0,258.6 L342.0,258.6 L344.0,258.6 L346.0,258.7 L348.0,258.7 L350.0,258.7 L352.0,258.7 L354.0,258.7 L356.0,258.7 L358.0,258.7 L360.0,258.7 L362.0,258.7 L364.0,258.7 L366.0,258.6 L368.0,258.6 L370.0,258.5 L372.0,258.5 L374.0,258.4 L376.0,258.4 L378.0,258.3 L380.0,258.2 L382.0,258.2 L384.0,258.1 L386.0,258.0 L386.6,258.0"/></g>
<g fill="none" stroke="#ff1010" stroke-width="0.72"><path d="M62.7,42.6 L63.2,44.1 L63.7,45.7 L64.2,47.2 L64.7,48.7 L65.2,50.1 L65.7,51.6 L66.2,53.1 L66.7,54.5 L67.2,56.0 L67.7,57.4 L68.2,58.9 L68.7,60.3 L69.2,61.7 L69.7,63.1 L70.2,64.5 L70.7,65.9 L71.2,67.2 L71.7,68.6 L72.2,69.9 L72.7,71.3 L73.2,72.6 L73.7,73.8 L74.2,75.1 L74.7,76.4 L75.2,77.6 L75.7,78.8 L76.2,80.0 L76.7,81.2 L77.2,82.4 L77.7,83.5 L78.2,84.7 L78.7,85.8 L79.2,87.0 L79.7,88.1 L80.2,89.2 L80.7,90.3 L81.2,91.4 L81.7,92.5 L82.2,93.6 L82.7,94.6 L83.2,95.7 L83.7,96.8 L84.2,97.8 L84.7,98.9 L85.2,99.9 L85.7,101.0 L86.2,102.0 L86.7,103.0 L87.2,104.1 L87.7,105.1 L88.2,106.1 L88.7,107.1 L89.2,108.0 L89.7,109.0 L90.2,110.0 L90.7,110.9 L91.2,111.9 L91.7,112.8 L92.2,113.8 L92.7,114.7 L93.2,115.6 L93.7,116.5 L94.2,117.4 L94.7,118.3 L95.2,119.2 L95.7,120.0 L96.2,120.9 L96.7,121.7 L97.2,122.6 L97.7,123.4 L98.2,124.2 L98.7,125.0 L99.2,125.8 L99.7,126.6 L100.2,127.4 L100.7,128.2 L101.2,129.0 L101.7,129.7 L102.2,130.5 L102.7,131.2 L103.2,132.0 L103.7,132.7 L104.2,133.4 L104.7,134.2 L105.2,134.9 L105.7,135.6 L106.2,136.3 L106.7,137.0 L107.2,137.7 L107.7,138.3 L108.2,139.0 L108.7,139.7 L109.2,140.4 L109.7,141.1 L110.2,141.8 L110.7,142.5 L111.2,143.2 L111.7,143.9 L112.2,144.6 L112.7,145.2 L113.2,145.9 L113.7,146.6 L114.2,147.3 L114.7,148.0 L115.2,148.7 L115.7,149.3 L116.2,150.0 L116.7,150.7 L117.2,151.3 L117.7,152.0 L118.2,152.7 L118.7,153.3 L119.2,154.0 L119.7,154.6 L120.2,155.2 L120.7,155.9 L121.2,156.5 L121.7,157.2 L122.2,157.8 L122.7,158.4 L123.2,159.1 L123.7,159.7 L124.2,160.3 L124.7,160.9 L125.2,161.5 L125.7,162.1 L126.2,162.7 L126.7,163.3 L127.2,163.9 L127.7,164.5 L128.2,165.1 L128.7,165.6 L129.2,166.2 L129.7,166.7 L130.2,167.3 L130.7,167.8 L131.2,168.3 L131.7,168.9 L132.2,169.4 L132.7,169.9 L133.2,170.5 L133.7,171.0 L134.2,171.5 L134.7,172.0 L135.2,172.5 L135.7,173.0 L136.2,173.6 L136.7,174.1 L137.2,174.6 L137.7,175.1 L138.2,175.6 L138.7,176.1 L139.2,176.7 L139.7,177.2 L140.0,177.5 L142.0,179.6 L144.0,181.7 L146.0,183.8 L148.0,185.9 L150.0,187.8 L152.0,189.5 L154.0,191.2 L156.0,192.7 L158.0,194.2 L160.0,195.7 L162.0,197.2 L164.0,198.7 L166.0,200.2 L168.0,201.6 L170.0,203.0 L172.0,204.3 L174.0,205.5 L176.0,206.7 L178.0,207.8 L180.0,208.9 L182.0,210.0 L184.0,211.0 L186.0,212.1 L188.0,213.1 L190.0,214.2 L192.0,215.2 L194.0,216.2 L196.0,217.2 L198.0,218.1 L200.0,219.0 L202.0,219.9 L204.0,220.7 L206.0,221.5 L208.0,222.3 L210.0,223.0 L212.0,223.7 L214.0,224.4 L216.0,225.1 L218.0,225.8 L220.0,226.5 L222.0,227.2 L224.0,227.8 L226.0,228.4 L228.0,229.0 L230.0,229.6 L232.0,230.1 L234.0,230.7 L236.0,231.2 L238.0,231.7 L240.0,232.2 L242.0,232.6 L244.0,233.1 L246.0,233.5 L248.0,233.9 L250.0,234.3 L252.0,234.7 L254.0,235.1 L256.0,235.5 L258.0,235.8 L260.0,236.2 L262.0,236.6 L264.0,236.9 L266.0,237.3 L268.0,237.6 L270.0,237.9 L272.0,238.3 L274.0,238.6 L276.0,239.0 L278.0,239.3 L280.0,239.6 L282.0,239.9 L284.0,240.2 L286.0,240.5 L288.0,240.8 L290.0,241.1 L292.0,241.4 L294.0,241.6 L296.0,241.8 L298.0,242.0 L300.0,242.2 L302.0,242.4 L304.0,242.6 L306.0,242.8 L308.0,243.0 L310.0,243.1 L312.0,243.3 L314.0,243.4 L316.0,243.6 L318.0,243.7 L320.0,243.8 L322.0,243.9 L324.0,244.0 L326.0,244.1 L328.0,244.1 L330.0,244.2 L332.0,244.2 L334.0,244.2 L336.0,244.3 L338.0,244.3 L340.0,244.3 L342.0,244.3 L344.0,244.4 L346.0,244.4 L348.0,244.4 L350.0,244.4 L352.0,244.4 L354.0,244.4 L356.0,244.3 L358.0,244.3 L360.0,244.3 L362.0,244.2 L364.0,244.2 L366.0,244.2 L368.0,244.1 L370.0,244.0 L372.0,244.0 L374.0,243.9 L376.0,243.8 L378.0,243.7 L380.0,243.6 L382.0,243.5 L384.0,243.4 L386.0,243.3 L386.6,243.3"/><path d="M62.7,43.6 L63.2,45.4 L63.7,47.2 L64.2,49.0 L64.7,50.7 L65.2,52.4 L65.7,54.1 L66.2,55.8 L66.7,57.4 L67.2,59.1 L67.7,60.7 L68.2,62.3 L68.7,64.0 L69.2,65.5 L69.7,67.1 L70.2,68.6 L70.7,70.1 L71.2,71.6 L71.7,73.0 L72.2,74.4 L72.7,75.8 L73.2,77.2 L73.7,78.6 L74.2,80.0 L74.7,81.4 L75.2,82.7 L75.7,84.0 L76.2,85.3 L76.7,86.6 L77.2,87.9 L77.7,89.2 L78.2,90.4 L78.7,91.7 L79.2,92.9 L79.7,94.1 L80.2,95.3 L80.7,96.5 L81.2,97.6 L81.7,98.8 L82.2,99.9 L82.7,101.0 L83.2,102.1 L83.7,103.3 L84.2,104.4 L84.7,105.4 L85.2,106.5 L85.7,107.6 L86.2,108.7 L86.7,109.7 L87.2,110.7 L87.7,111.8 L88.2,112.8 L88.7,113.8 L89.2,114.8 L89.7,115.8 L90.2,116.7 L90.7,117.7 L91.2,118.7 L91.7,119.6 L92.2,120.6 L92.7,121.5 L93.2,122.4 L93.7,123.3 L94.2,124.2 L94.7,125.1 L95.2,126.0 L95.7,126.9 L96.2,127.7 L96.7,128.6 L97.2,129.4 L97.7,130.3 L98.2,131.1 L98.7,132.0 L99.2,132.8 L99.7,133.6 L100.2,134.4 L100.7,135.2 L101.2,136.1 L101.7,136.9 L102.2,137.7 L102.7,138.5 L103.2,139.3 L103.7,140.1 L104.2,140.9 L104.7,141.7 L105.2,142.4 L105.7,143.2 L106.2,144.0 L106.7,144.7 L107.2,145.5 L107.7,146.2 L108.2,147.0 L108.7,147.7 L109.2,148.5 L109.7,149.2 L110.2,150.0 L110.7,150.8 L111.2,151.5 L111.7,152.3 L112.2,153.1 L112.7,153.8 L113.2,154.6 L113.7,155.4 L114.2,156.1 L114.7,156.9 L115.2,157.7 L115.7,158.4 L116.2,159.2 L116.7,159.9 L117.2,160.7 L117.7,161.4 L118.2,162.1 L118.7,162.9 L119.2,163.6 L119.7,164.3 L120.2,165.0 L120.7,165.7 L121.2,166.4 L121.7,167.1 L122.2,167.8 L122.7,168.5 L123.2,169.1 L123.7,169.8 L124.2,170.4 L124.7,171.0 L125.2,171.6 L125.7,172.2 L126.2,172.8 L126.7,173.4 L127.2,174.0 L127.7,174.6 L128.2,175.1 L128.7,175.7 L129.2,176.2 L129.7,176.7 L130.2,177.3 L130.7,177.8 L131.2,178.3 L131.7,178.8 L132.2,179.3 L132.7,179.8 L133.2,180.3 L133.7,180.8 L134.2,181.3 L134.7,181.8 L135.2,182.3 L135.7,182.8 L136.2,183.3 L136.7,183.8 L137.2,184.3 L137.7,184.8 L138.2,185.3 L138.7,185.9 L139.2,186.4 L139.7,186.9 L140.0,187.2 L142.0,189.4 L144.0,191.6 L146.0,193.8 L148.0,196.0 L150.0,198.1 L152.0,200.1 L154.0,202.0 L156.0,203.8 L158.0,205.5 L160.0,207.1 L162.0,208.7 L164.0,210.3 L166.0,211.9 L168.0,213.4 L170.0,214.9 L172.0,216.3 L174.0,217.7 L176.0,218.9 L178.0,220.2 L180.0,221.4 L182.0,222.6 L184.0,223.7 L186.0,224.9 L188.0,226.1 L190.0,227.3 L192.0,228.5 L194.0,229.6 L196.0,230.8 L198.0,231.9 L200.0,232.9 L202.0,233.9 L204.0,234.8 L206.0,235.7 L208.0,236.5 L210.0,237.4 L212.0,238.2 L214.0,239.0 L216.0,239.8 L218.0,240.6 L220.0,241.5 L222.0,242.3 L224.0,243.1 L226.0,244.0 L228.0,244.8 L230.0,245.6 L232.0,246.3 L234.0,247.1 L236.0,247.8 L238.0,248.5 L240.0,249.2 L242.0,249.8 L244.0,250.5 L246.0,251.1 L248.0,251.7 L250.0,252.3 L252.0,252.8 L254.0,253.3 L256.0,253.8 L258.0,254.2 L260.0,254.6 L262.0,255.1 L264.0,255.4 L266.0,255.8 L268.0,256.2 L270.0,256.5 L272.0,256.9 L274.0,257.3 L276.0,257.6 L278.0,257.9 L280.0,258.3 L282.0,258.6 L284.0,258.9 L286.0,259.2 L288.0,259.5 L290.0,259.8 L292.0,260.0 L294.0,260.3 L296.0,260.5 L298.0,260.7 L300.0,260.9 L302.0,261.1 L304.0,261.3 L306.0,261.5 L308.0,261.7 L310.0,261.9 L312.0,262.0 L314.0,262.2 L316.0,262.3 L318.0,262.5 L320.0,262.6 L322.0,262.7 L324.0,262.9 L326.0,263.0 L328.0,263.1 L330.0,263.2 L332.0,263.3 L334.0,263.4 L336.0,263.5 L338.0,263.6 L340.0,263.6 L342.0,263.7 L344.0,263.8 L346.0,263.8 L348.0,263.9 L350.0,263.9 L352.0,264.0 L354.0,264.0 L356.0,264.0 L358.0,264.0 L360.0,264.0 L362.0,264.0 L364.0,263.9 L366.0,263.9 L368.0,263.9 L370.0,263.8 L372.0,263.7 L374.0,263.7 L376.0,263.6 L378.0,263.5 L380.0,263.4 L382.0,263.4 L384.0,263.3 L386.0,263.2 L386.6,263.1"/></g>
<g fill="none" stroke="#1a1a1a" stroke-width="0.78"><path d="M62.7,42.6 L63.2,44.0 L63.7,45.4 L64.2,46.8 L64.7,48.1 L65.2,49.5 L65.7,50.9 L66.2,52.2 L66.7,53.6 L67.2,55.0 L67.7,56.3 L68.2,57.7 L68.7,59.1 L69.2,60.4 L69.7,61.8 L70.2,63.1 L70.7,64.4 L71.2,65.7 L71.7,67.0 L72.2,68.3 L72.7,69.5 L73.2,70.8 L73.7,72.0 L74.2,73.2 L74.7,74.4 L75.2,75.6 L75.7,76.8 L76.2,77.9 L76.7,79.0 L77.2,80.2 L77.7,81.3 L78.2,82.4 L78.7,83.4 L79.2,84.5 L79.7,85.6 L80.2,86.6 L80.7,87.6 L81.2,88.6 L81.7,89.6 L82.2,90.6 L82.7,91.6 L83.2,92.6 L83.7,93.6 L84.2,94.5 L84.7,95.5 L85.2,96.5 L85.7,97.4 L86.2,98.4 L86.7,99.3 L87.2,100.3 L87.7,101.2 L88.2,102.1 L88.7,103.0 L89.2,103.9 L89.7,104.8 L90.2,105.7 L90.7,106.6 L91.2,107.5 L91.7,108.3 L92.2,109.2 L92.7,110.1 L93.2,110.9 L93.7,111.8 L94.2,112.6 L94.7,113.5 L95.2,114.3 L95.7,115.1 L96.2,116.0 L96.7,116.8 L97.2,117.6 L97.7,118.4 L98.2,119.1 L98.7,119.9 L99.2,120.7 L99.7,121.4 L100.2,122.2 L100.7,122.9 L101.2,123.7 L101.7,124.4 L102.2,125.1 L102.7,125.8 L103.2,126.5 L103.7,127.2 L104.2,127.9 L104.7,128.6 L105.2,129.3 L105.7,129.9 L106.2,130.6 L106.7,131.3 L107.2,131.9 L107.7,132.6 L108.2,133.2 L108.7,133.9 L109.2,134.5 L109.7,135.2 L110.2,135.9 L110.7,136.5 L111.2,137.2 L111.7,137.9 L112.2,138.6 L112.7,139.3 L113.2,140.0 L113.7,140.6 L114.2,141.3 L114.7,142.0 L115.2,142.7 L115.7,143.4 L116.2,144.0 L116.7,144.7 L117.2,145.4 L117.7,146.0 L118.2,146.7 L118.7,147.3 L119.2,148.0 L119.7,148.6 L120.2,149.3 L120.7,149.9 L121.2,150.5 L121.7,151.2 L122.2,151.8 L122.7,152.4 L123.2,153.0 L123.7,153.6 L124.2,154.2 L124.7,154.8 L125.2,155.3 L125.7,155.9 L126.2,156.4 L126.7,157.0 L127.2,157.5 L127.7,158.0 L128.2,158.6 L128.7,159.1 L129.2,159.6 L129.7,160.1 L130.2,160.6 L130.7,161.1 L131.2,161.5 L131.7,162.0 L132.2,162.5 L132.7,163.0 L133.2,163.4 L133.7,163.9 L134.2,164.4 L134.7,164.9 L135.2,165.3 L135.7,165.8 L136.2,166.3 L136.7,166.7 L137.2,167.2 L137.7,167.7 L138.2,168.2 L138.7,168.6 L139.2,169.1 L139.7,169.6 L140.0,169.9 L142.0,171.9 L144.0,173.9 L146.0,175.9 L148.0,177.9 L150.0,179.8 L152.0,181.5 L154.0,183.1 L156.0,184.6 L158.0,186.1 L160.0,187.5 L162.0,189.0 L164.0,190.4 L166.0,191.9 L168.0,193.3 L170.0,194.6 L172.0,195.9 L174.0,197.1 L176.0,198.3 L178.0,199.4 L180.0,200.5 L182.0,201.5 L184.0,202.6 L186.0,203.6 L188.0,204.6 L190.0,205.6 L192.0,206.6 L194.0,207.6 L196.0,208.6 L198.0,209.5 L200.0,210.4 L202.0,211.3 L204.0,212.1 L206.0,212.9 L208.0,213.6 L210.0,214.3 L212.0,215.0 L214.0,215.7 L216.0,216.3 L218.0,216.9 L220.0,217.5 L222.0,218.0 L224.0,218.5 L226.0,218.9 L228.0,219.4 L230.0,219.8 L232.0,220.1 L234.0,220.5 L236.0,220.9 L238.0,221.2 L240.0,221.6 L242.0,221.9 L244.0,222.2 L246.0,222.5 L248.0,222.8 L250.0,223.1 L252.0,223.4 L254.0,223.8 L256.0,224.2 L258.0,224.5 L260.0,224.9 L262.0,225.3 L264.0,225.6 L266.0,226.0 L268.0,226.3 L270.0,226.6 L272.0,227.0 L274.0,227.3 L276.0,227.6 L278.0,227.9 L280.0,228.2 L282.0,228.5 L284.0,228.8 L286.0,229.0 L288.0,229.3 L290.0,229.5 L292.0,229.7 L294.0,229.9 L296.0,230.1 L298.0,230.2 L300.0,230.3 L302.0,230.4 L304.0,230.5 L306.0,230.6 L308.0,230.7 L310.0,230.9 L312.0,231.0 L314.0,231.1 L316.0,231.2 L318.0,231.3 L320.0,231.4 L322.0,231.5 L324.0,231.6 L326.0,231.7 L328.0,231.7 L330.0,231.8 L332.0,231.9 L334.0,231.9 L336.0,232.0 L338.0,232.0 L340.0,232.0 L342.0,232.1 L344.0,232.1 L346.0,232.1 L348.0,232.2 L350.0,232.2 L352.0,232.2 L354.0,232.2 L356.0,232.2 L358.0,232.2 L360.0,232.2 L362.0,232.2 L364.0,232.2 L366.0,232.1 L368.0,232.1 L370.0,232.1 L372.0,232.0 L374.0,232.0 L376.0,231.9 L378.0,231.9 L380.0,231.8 L382.0,231.8 L384.0,231.7 L386.0,231.6 L386.6,231.6"/><path d="M62.7,44.1 L63.2,46.1 L63.7,48.1 L64.2,50.0 L64.7,51.9 L65.2,53.8 L65.7,55.6 L66.2,57.4 L66.7,59.2 L67.2,61.0 L67.7,62.8 L68.2,64.5 L68.7,66.3 L69.2,68.0 L69.7,69.6 L70.2,71.2 L70.7,72.8 L71.2,74.3 L71.7,75.8 L72.2,77.2 L72.7,78.7 L73.2,80.1 L73.7,81.5 L74.2,82.9 L74.7,84.3 L75.2,85.7 L75.7,87.0 L76.2,88.4 L76.7,89.7 L77.2,91.0 L77.7,92.3 L78.2,93.5 L78.7,94.8 L79.2,96.0 L79.7,97.3 L80.2,98.5 L80.7,99.7 L81.2,100.9 L81.7,102.1 L82.2,103.3 L82.7,104.5 L83.2,105.6 L83.7,106.8 L84.2,107.9 L84.7,109.0 L85.2,110.1 L85.7,111.2 L86.2,112.3 L86.7,113.4 L87.2,114.5 L87.7,115.5 L88.2,116.5 L88.7,117.6 L89.2,118.6 L89.7,119.6 L90.2,120.6 L90.7,121.5 L91.2,122.5 L91.7,123.5 L92.2,124.5 L92.7,125.4 L93.2,126.4 L93.7,127.3 L94.2,128.3 L94.7,129.2 L95.2,130.1 L95.7,131.1 L96.2,132.0 L96.7,132.9 L97.2,133.9 L97.7,134.8 L98.2,135.7 L98.7,136.6 L99.2,137.5 L99.7,138.4 L100.2,139.2 L100.7,140.1 L101.2,141.0 L101.7,141.9 L102.2,142.7 L102.7,143.6 L103.2,144.4 L103.7,145.3 L104.2,146.1 L104.7,147.0 L105.2,147.8 L105.7,148.6 L106.2,149.5 L106.7,150.3 L107.2,151.1 L107.7,151.9 L108.2,152.7 L108.7,153.6 L109.2,154.4 L109.7,155.2 L110.2,156.0 L110.7,156.9 L111.2,157.7 L111.7,158.6 L112.2,159.5 L112.7,160.3 L113.2,161.2 L113.7,162.1 L114.2,163.0 L114.7,163.9 L115.2,164.7 L115.7,165.6 L116.2,166.5 L116.7,167.3 L117.2,168.2 L117.7,169.0 L118.2,169.8 L118.7,170.6 L119.2,171.4 L119.7,172.2 L120.2,173.0 L120.7,173.8 L121.2,174.5 L121.7,175.3 L122.2,176.0 L122.7,176.8 L123.2,177.5 L123.7,178.2 L124.2,178.9 L124.7,179.6 L125.2,180.3 L125.7,181.0 L126.2,181.6 L126.7,182.3 L127.2,182.9 L127.7,183.6 L128.2,184.2 L128.7,184.8 L129.2,185.4 L129.7,186.0 L130.2,186.6 L130.7,187.2 L131.2,187.8 L131.7,188.4 L132.2,189.0 L132.7,189.6 L133.2,190.2 L133.7,190.7 L134.2,191.3 L134.7,191.9 L135.2,192.5 L135.7,193.0 L136.2,193.6 L136.7,194.2 L137.2,194.7 L137.7,195.3 L138.2,195.9 L138.7,196.4 L139.2,197.0 L139.7,197.6 L140.0,197.9 L142.0,200.2 L144.0,202.5 L146.0,204.7 L148.0,206.9 L150.0,209.0 L152.0,210.9 L154.0,212.8 L156.0,214.5 L158.0,216.2 L160.0,217.9 L162.0,219.6 L164.0,221.3 L166.0,223.0 L168.0,224.7 L170.0,226.3 L172.0,227.8 L174.0,229.3 L176.0,230.6 L178.0,231.8 L180.0,233.0 L182.0,234.2 L184.0,235.3 L186.0,236.4 L188.0,237.6 L190.0,238.7 L192.0,239.8 L194.0,240.9 L196.0,241.9 L198.0,243.0 L200.0,244.0 L202.0,245.0 L204.0,246.0 L206.0,247.0 L208.0,248.0 L210.0,249.0 L212.0,249.9 L214.0,250.8 L216.0,251.8 L218.0,252.7 L220.0,253.6 L222.0,254.5 L224.0,255.4 L226.0,256.2 L228.0,257.1 L230.0,257.9 L232.0,258.7 L234.0,259.4 L236.0,260.2 L238.0,260.8 L240.0,261.5 L242.0,262.1 L244.0,262.7 L246.0,263.3 L248.0,263.9 L250.0,264.5 L252.0,265.0 L254.0,265.5 L256.0,266.0 L258.0,266.5 L260.0,267.0 L262.0,267.4 L264.0,267.9 L266.0,268.3 L268.0,268.7 L270.0,269.0 L272.0,269.4 L274.0,269.8 L276.0,270.1 L278.0,270.4 L280.0,270.8 L282.0,271.1 L284.0,271.4 L286.0,271.7 L288.0,272.0 L290.0,272.3 L292.0,272.5 L294.0,272.8 L296.0,273.0 L298.0,273.2 L300.0,273.4 L302.0,273.6 L304.0,273.8 L306.0,273.9 L308.0,274.0 L310.0,274.1 L312.0,274.2 L314.0,274.3 L316.0,274.4 L318.0,274.5 L320.0,274.6 L322.0,274.7 L324.0,274.8 L326.0,274.8 L328.0,274.9 L330.0,275.0 L332.0,275.0 L334.0,275.0 L336.0,275.1 L338.0,275.1 L340.0,275.1 L342.0,275.2 L344.0,275.2 L346.0,275.2 L348.0,275.2 L350.0,275.2 L352.0,275.2 L354.0,275.2 L356.0,275.2 L358.0,275.2 L360.0,275.2 L362.0,275.2 L364.0,275.1 L366.0,275.1 L368.0,275.0 L370.0,275.0 L372.0,274.9 L374.0,274.8 L376.0,274.8 L378.0,274.7 L380.0,274.6 L382.0,274.5 L384.0,274.4 L386.0,274.3 L386.6,274.3"/></g>
<path d="M62.7,41.6 L63.2,43.2 L63.7,44.7 L64.2,46.2 L64.7,47.8 L65.2,49.3 L65.7,50.8 L66.2,52.3 L66.7,53.8 L67.2,55.3 L67.7,56.8 L68.2,58.2 L68.7,59.7 L69.2,61.2 L69.7,62.6 L70.2,64.1 L70.7,65.5 L71.2,67.0 L71.7,68.4 L72.2,69.8 L72.7,71.2 L73.2,72.6 L73.7,74.0 L74.2,75.4 L74.7,76.8 L75.2,78.1 L75.7,79.5 L76.2,80.8 L76.7,82.1 L77.2,83.4 L77.7,84.7 L78.2,85.9 L78.7,87.2 L79.2,88.4 L79.7,89.7 L80.2,90.9 L80.7,92.1 L81.2,93.3 L81.7,94.5 L82.2,95.7 L82.7,96.9 L83.2,98.0 L83.7,99.2 L84.2,100.3 L84.7,101.4 L85.2,102.5 L85.7,103.6 L86.2,104.7 L86.7,105.8 L87.2,106.9 L87.7,108.0 L88.2,109.0 L88.7,110.0 L89.2,111.1 L89.7,112.1 L90.2,113.1 L90.7,114.1 L91.2,115.1 L91.7,116.1 L92.2,117.0 L92.7,118.0 L93.2,119.0 L93.7,119.9 L94.2,120.8 L94.7,121.8 L95.2,122.7 L95.7,123.6 L96.2,124.4 L96.7,125.3 L97.2,126.2 L97.7,127.1 L98.2,127.9 L98.7,128.7 L99.2,129.6 L99.7,130.4 L100.2,131.2 L100.7,132.0 L101.2,132.8 L101.7,133.6 L102.2,134.4 L102.7,135.2 L103.2,136.0 L103.7,136.7 L104.2,137.5 L104.7,138.3 L105.2,139.0 L105.7,139.7 L106.2,140.5 L106.7,141.2 L107.2,141.9 L107.7,142.6 L108.2,143.3 L108.7,144.0 L109.2,144.8 L109.7,145.5 L110.2,146.2 L110.7,146.9 L111.2,147.6 L111.7,148.4 L112.2,149.1 L112.7,149.8 L113.2,150.6 L113.7,151.3 L114.2,152.0 L114.7,152.8 L115.2,153.5 L115.7,154.2 L116.2,154.9 L116.7,155.6 L117.2,156.3 L117.7,157.0 L118.2,157.7 L118.7,158.4 L119.2,159.1 L119.7,159.8 L120.2,160.5 L120.7,161.1 L121.2,161.8 L121.7,162.5 L122.2,163.1 L122.7,163.8 L123.2,164.4 L123.7,165.1 L124.2,165.7 L124.7,166.3 L125.2,166.9 L125.7,167.5 L126.2,168.1 L126.7,168.7 L127.2,169.3 L127.7,169.9 L128.2,170.4 L128.7,171.0 L129.2,171.5 L129.7,172.1 L130.2,172.6 L130.7,173.1 L131.2,173.7 L131.7,174.2 L132.2,174.7 L132.7,175.2 L133.2,175.7 L133.7,176.3 L134.2,176.8 L134.7,177.3 L135.2,177.8 L135.7,178.3 L136.2,178.8 L136.7,179.3 L137.2,179.8 L137.7,180.3 L138.2,180.8 L138.7,181.3 L139.2,181.9 L139.7,182.4 L140.0,182.7 L142.0,184.8 L144.0,187.0 L146.0,189.1 L148.0,191.2 L150.0,193.1 L152.0,194.9 L154.0,196.6 L156.0,198.2 L158.0,199.8 L160.0,201.3 L162.0,202.8 L164.0,204.4 L166.0,205.9 L168.0,207.4 L170.0,208.8 L172.0,210.2 L174.0,211.4 L176.0,212.7 L178.0,213.9 L180.0,215.0 L182.0,216.1 L184.0,217.2 L186.0,218.4 L188.0,219.5 L190.0,220.5 L192.0,221.6 L194.0,222.7 L196.0,223.7 L198.0,224.7 L200.0,225.7 L202.0,226.6 L204.0,227.5 L206.0,228.4 L208.0,229.2 L210.0,230.0 L212.0,230.8 L214.0,231.6 L216.0,232.4 L218.0,233.2 L220.0,233.9 L222.0,234.7 L224.0,235.4 L226.0,236.1 L228.0,236.8 L230.0,237.5 L232.0,238.2 L234.0,238.8 L236.0,239.4 L238.0,240.0 L240.0,240.6 L242.0,241.1 L244.0,241.6 L246.0,242.2 L248.0,242.7 L250.0,243.1 L252.0,243.6 L254.0,244.0 L256.0,244.5 L258.0,244.9 L260.0,245.3 L262.0,245.7 L264.0,246.1 L266.0,246.4 L268.0,246.8 L270.0,247.1 L272.0,247.5 L274.0,247.8 L276.0,248.2 L278.0,248.5 L280.0,248.8 L282.0,249.1 L284.0,249.4 L286.0,249.7 L288.0,250.0 L290.0,250.3 L292.0,250.6 L294.0,250.8 L296.0,251.0 L298.0,251.2 L300.0,251.4 L302.0,251.6 L304.0,251.8 L306.0,252.0 L308.0,252.2 L310.0,252.3 L312.0,252.5 L314.0,252.6 L316.0,252.8 L318.0,252.9 L320.0,253.0 L322.0,253.1 L324.0,253.2 L326.0,253.3 L328.0,253.3 L330.0,253.4 L332.0,253.4 L334.0,253.5 L336.0,253.5 L338.0,253.6 L340.0,253.6 L342.0,253.6 L344.0,253.7 L346.0,253.7 L348.0,253.7 L350.0,253.7 L352.0,253.7 L354.0,253.7 L356.0,253.7 L358.0,253.7 L360.0,253.7 L362.0,253.7 L364.0,253.7 L366.0,253.6 L368.0,253.6 L370.0,253.5 L372.0,253.5 L374.0,253.4 L376.0,253.4 L378.0,253.3 L380.0,253.2 L382.0,253.2 L384.0,253.1 L386.0,253.0 L386.6,253.0" fill="none" stroke="#0000ff" stroke-width="1.65"/>
<g stroke="#000" stroke-opacity="0.68" stroke-width="0.65" fill="none">
<path d="M107.2,347.25v-2.9M107.2,16.4v2.9M88.5,347.25v-1.3M88.5,16.4v1.3M94.1,347.25v-1.3M94.1,16.4v1.3M97.4,347.25v-1.3M97.4,16.4v1.3M99.8,347.25v-1.3M99.8,16.4v1.3M101.6,347.25v-1.3M101.6,16.4v1.3M103.1,347.25v-1.3M103.1,16.4v1.3M104.3,347.25v-1.3M104.3,16.4v1.3M105.4,347.25v-1.3M105.4,16.4v1.3M106.3,347.25v-1.3M106.3,16.4v1.3M167.3,347.25v-2.9M167.3,16.4v2.9M148.6,347.25v-1.3M148.6,16.4v1.3M154.2,347.25v-1.3M154.2,16.4v1.3M157.5,347.25v-1.3M157.5,16.4v1.3M159.8,347.25v-1.3M159.8,16.4v1.3M161.7,347.25v-1.3M161.7,16.4v1.3M163.1,347.25v-1.3M163.1,16.4v1.3M164.4,347.25v-1.3M164.4,16.4v1.3M165.5,347.25v-1.3M165.5,16.4v1.3M166.4,347.25v-1.3M166.4,16.4v1.3M227.4,347.25v-2.9M227.4,16.4v2.9M208.7,347.25v-1.3M208.7,16.4v1.3M214.3,347.25v-1.3M214.3,16.4v1.3M217.6,347.25v-1.3M217.6,16.4v1.3M219.9,347.25v-1.3M219.9,16.4v1.3M221.8,347.25v-1.3M221.8,16.4v1.3M223.2,347.25v-1.3M223.2,16.4v1.3M224.5,347.25v-1.3M224.5,16.4v1.3M225.6,347.25v-1.3M225.6,16.4v1.3M226.5,347.25v-1.3M226.5,16.4v1.3M287.5,347.25v-2.9M287.5,16.4v2.9M268.8,347.25v-1.3M268.8,16.4v1.3M274.4,347.25v-1.3M274.4,16.4v1.3M277.7,347.25v-1.3M277.7,16.4v1.3M280.0,347.25v-1.3M280.0,16.4v1.3M281.8,347.25v-1.3M281.8,16.4v1.3M283.3,347.25v-1.3M283.3,16.4v1.3M284.6,347.25v-1.3M284.6,16.4v1.3M285.7,347.25v-1.3M285.7,16.4v1.3M286.6,347.25v-1.3M286.6,16.4v1.3M347.6,347.25v-2.9M347.6,16.4v2.9M328.9,347.25v-1.3M328.9,16.4v1.3M334.5,347.25v-1.3M334.5,16.4v1.3M337.8,347.25v-1.3M337.8,16.4v1.3M340.1,347.25v-1.3M340.1,16.4v1.3M341.9,347.25v-1.3M341.9,16.4v1.3M343.4,347.25v-1.3M343.4,16.4v1.3M344.7,347.25v-1.3M344.7,16.4v1.3M345.7,347.25v-1.3M345.7,16.4v1.3M346.7,347.25v-1.3M346.7,16.4v1.3M56.7,338.5h1.8M387.0,338.5h-1.8M56.7,320.6h3.0M387.0,320.6h-3.0M56.7,302.7h1.8M387.0,302.7h-1.8M56.7,284.8h1.8M387.0,284.8h-1.8M56.7,267.0h1.8M387.0,267.0h-1.8M56.7,249.1h1.8M387.0,249.1h-1.8M56.7,231.2h3.0M387.0,231.2h-3.0M56.7,213.3h1.8M387.0,213.3h-1.8M56.7,195.4h1.8M387.0,195.4h-1.8M56.7,177.6h1.8M387.0,177.6h-1.8M56.7,159.7h1.8M387.0,159.7h-1.8M56.7,141.8h3.0M387.0,141.8h-3.0M56.7,123.9h1.8M387.0,123.9h-1.8M56.7,106.0h1.8M387.0,106.0h-1.8M56.7,88.2h1.8M387.0,88.2h-1.8M56.7,70.3h1.8M387.0,70.3h-1.8M56.7,52.4h3.0M387.0,52.4h-3.0M56.7,34.5h1.8M387.0,34.5h-1.8"/>
</g>
<rect x="56.7" y="16.4" width="330.3" height="330.85" fill="none" stroke="#000" stroke-opacity="0.55" stroke-width="0.65"/>
<g class="tx" style="opacity:0.99">
<text x="233.38" y="32.00" style="font-size:13px;">3</text>
<text x="244.71" y="32.00" style="font-size:13px;font-style:italic;">σ</text>
<text x="258.00" y="32.00" style="font-size:13px;letter-spacing:1.69px;">bands</text>
<text x="299.43" y="32.00" style="font-size:13px;" transform="translate(299.70,0) scale(0.871,1) translate(-299.70,0)">in</text>
<text x="185.35" y="50.20" style="font-size:13px;font-style:italic;">M</text>
<text x="196.89" y="53.40" style="font-size:9.3px;font-style:italic;">t</text>
<text x="204.35" y="50.20" style="font-size:13px;">=</text>
<text x="214.16" y="50.20" style="font-size:13px;letter-spacing:0.97px;">173.1</text>
<text x="252.96" y="50.20" style="font-size:13px;">±</text>
<text x="261.50" y="50.20" style="font-size:13px;letter-spacing:1.02px;">0.6</text>
<text x="286.07" y="50.20" style="font-size:13px;letter-spacing:1.62px;">GeV</text>
<text x="313.83" y="50.20" style="font-size:13px;letter-spacing:0.77px;">(black)</text>
<text x="184.21" y="68.90" style="font-size:13px;font-style:italic;">α</text>
<text x="192.29" y="72.10" style="font-size:9.3px;font-style:italic;">s</text>
<text x="198.03" y="68.90" style="font-size:13px;">(</text>
<text x="202.85" y="68.90" style="font-size:13px;font-style:italic;">M</text>
<text x="214.69" y="72.10" style="font-size:9.3px;font-style:italic;">Z</text>
<text x="222.08" y="68.90" style="font-size:13px;">)</text>
<text x="230.85" y="68.90" style="font-size:13px;">=</text>
<text x="241.40" y="68.90" style="font-size:13px;letter-spacing:1.17px;">0.1184</text>
<text x="288.76" y="68.90" style="font-size:13px;">±</text>
<text x="297.90" y="68.90" style="font-size:13px;letter-spacing:1.80px;">0.0007</text>
<text x="346.03" y="68.90" style="font-size:13px;letter-spacing:0.90px;">(red)</text>
<text x="185.35" y="87.00" style="font-size:13px;font-style:italic;">M</text>
<text x="197.40" y="90.20" style="font-size:9.3px;font-style:italic;">H</text>
<text x="206.45" y="87.00" style="font-size:13px;">=</text>
<text x="216.96" y="87.00" style="font-size:13px;letter-spacing:1.16px;">125.66</text>
<text x="262.46" y="87.00" style="font-size:13px;">±</text>
<text x="272.00" y="87.00" style="font-size:13px;letter-spacing:0.88px;">0.3</text>
<text x="295.87" y="87.00" style="font-size:13px;letter-spacing:1.77px;">GeV</text>
<text x="324.23" y="87.00" style="font-size:13px;letter-spacing:0.62px;">(blue)</text>
<text x="144.23" y="381.40" style="font-size:13px;letter-spacing:0.51px;">Running</text>
<text x="197.43" y="381.40" style="font-size:13px;" transform="translate(197.80,0) scale(0.969,1) translate(-197.80,0)">RGE</text>
<text x="225.67" y="381.40" style="font-size:13px;" transform="translate(226.20,0) scale(0.884,1) translate(-226.20,0)">scale</text>
<text x="256.01" y="381.40" style="font-size:13px;font-style:italic;">μ</text>
<text x="263.54" y="381.40" style="font-size:13px;letter-spacing:0.93px;">[GeV]</text>
<text x="97.95" y="270.00" style="font-size:13px;font-style:italic;letter-spacing:0.75px;">Metastable</text>
<text x="297.81" y="338.05" style="font-size:13px;font-style:italic;letter-spacing:0.73px;">Unstable</text>
<text x="97.66" y="363.20" style="font-size:13px;" transform="translate(98.80,0) scale(0.977,1) translate(-98.80,0)">10</text>
<text x="111.16" y="357.90" style="font-size:9.3px;">5</text>
<text x="157.75" y="363.20" style="font-size:13px;" transform="translate(158.89,0) scale(0.977,1) translate(-158.89,0)">10</text>
<text x="171.44" y="357.90" style="font-size:9.3px;">8</text>
<text x="215.74" y="363.20" style="font-size:13px;" transform="translate(216.88,0) scale(0.915,1) translate(-216.88,0)">10</text>
<text x="228.66" y="357.90" style="font-size:9.3px;" transform="translate(229.48,0) scale(0.972,1) translate(-229.48,0)">11</text>
<text x="275.83" y="363.20" style="font-size:13px;" transform="translate(276.97,0) scale(0.915,1) translate(-276.97,0)">10</text>
<text x="288.75" y="357.90" style="font-size:9.3px;" transform="translate(289.57,0) scale(0.924,1) translate(-289.57,0)">14</text>
<text x="335.92" y="363.20" style="font-size:13px;" transform="translate(337.06,0) scale(0.915,1) translate(-337.06,0)">10</text>
<text x="348.84" y="357.90" style="font-size:9.3px;" transform="translate(349.66,0) scale(0.937,1) translate(-349.66,0)">17</text>
<text x="31.10" y="56.55" style="font-size:13px;">0.10</text>
<text x="31.11" y="145.90" style="font-size:13px;">0.05</text>
<text x="31.10" y="235.25" style="font-size:13px;">0.00</text>
<text x="23.78" y="324.65" style="font-size:13px;">−0.05</text>
<g transform="rotate(-90)">
<text x="-251.37" y="17.00" style="font-size:13px;" transform="translate(-251.00,0) scale(0.960,1) translate(251.00,0)">Higgs</text>
<text x="-217.47" y="17.00" style="font-size:13px;letter-spacing:0.61px;">quartic</text>
<text x="-172.70" y="17.00" style="font-size:13px;letter-spacing:0.49px;">coupling</text>
<text x="-118.68" y="17.00" style="font-size:13px;font-style:italic;">λ</text>
</g>
</g>
</svg>
</body></html>
